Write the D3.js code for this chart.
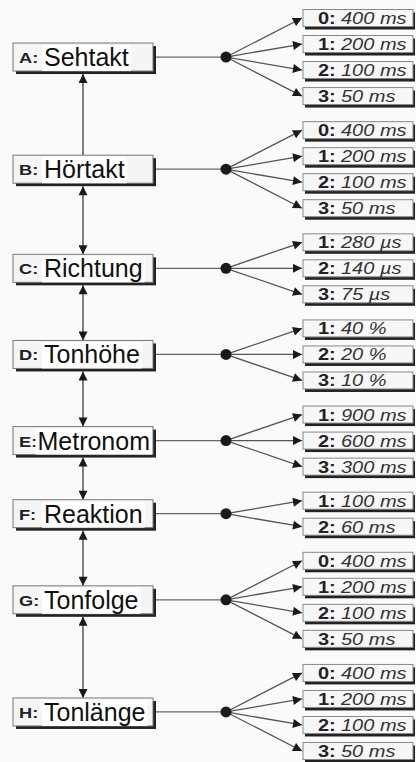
<!DOCTYPE html>
<html>
<head>
<meta charset="utf-8">
<script src="https://cdn.jsdelivr.net/npm/d3@7"></script>
<style>
  body { margin: 0; background: #fafafa; }
  svg { display: block; }
</style>
</head>
<body>
<div class="chart"></div>
<script>
// tasks (left column) and their levels (right column)
var codes = ["A", "B", "C", "D", "E", "F", "G", "H"];
var names = ["Sehtakt", "Hörtakt", "Richtung", "Tonhöhe", "Metronom", "Reaktion", "Tonfolge", "Tonlänge"];
var levels = [
  ["0", "1", "2", "3"],
  ["0", "1", "2", "3"],
  ["1", "2", "3"],
  ["1", "2", "3"],
  ["1", "2", "3"],
  ["1", "2"],
  ["0", "1", "2", "3"],
  ["0", "1", "2", "3"]
];
var values = [
  ["400 ms", "200 ms", "100 ms", "50 ms"],
  ["400 ms", "200 ms", "100 ms", "50 ms"],
  ["280 µs", "140 µs", "75 µs"],
  ["40 %", "20 %", "10 %"],
  ["900 ms", "600 ms", "300 ms"],
  ["100 ms", "60 ms"],
  ["400 ms", "200 ms", "100 ms", "50 ms"],
  ["400 ms", "200 ms", "100 ms", "50 ms"]
];
// link between task i and task i+1: true = arrows both ways
var twoWay = [false, true, true, true, true, true, true];

var width = 416;
var height = 762;
var groupGap = 0.31;   // extra space between groups, in row units

// build row positions
var rows = [];
var groups = [];
var k = 0;
codes.forEach(function(c, g) {
  var first = k;
  levels[g].forEach(function(l, i) {
    rows.push({ g: g, level: l, value: values[g][i], u: k + g * groupGap });
    k++;
  });
  groups.push({ code: c, name: names[g], u: ((first + k - 1) / 2) + g * groupGap });
});

var y = d3.scaleLinear()
  .domain([0, d3.max(rows, function(d) { return d.u; })])
  .range([18, 751]);

var boxX = 13, boxW = 140, boxH = 28;
var midX = 83;
var dotX = 226;
var optX = 303, optW = 110, optH = 17;

var svg = d3.select(".chart")
  .append("svg")
    .attr("width", width)
    .attr("height", height);

svg.append("rect")
  .attr("width", width)
  .attr("height", height)
  .attr("fill", "#fafafa");

var defs = svg.append("defs");
defs.append("marker")
    .attr("id", "head")
    .attr("markerUnits", "userSpaceOnUse")
    .attr("viewBox", "0 0 10 10")
    .attr("refX", 10)
    .attr("refY", 5)
    .attr("markerWidth", 10)
    .attr("markerHeight", 9)
    .attr("orient", "auto-start-reverse")
  .append("path")
    .attr("d", "M0,0 L10,5 L0,10 Z")
    .attr("fill", "#1a1a1a");

// vertical links between tasks
var links = svg.append("g");
twoWay.forEach(function(both, i) {
  var y1 = y(groups[i].u) + boxH / 2 + 3;
  var y2 = y(groups[i + 1].u) - boxH / 2;
  var line = links.append("line")
    .attr("x1", midX).attr("y1", y2)
    .attr("x2", midX).attr("y2", y1)
    .attr("stroke", "#555")
    .attr("stroke-width", 1.5)
    .attr("marker-end", "url(#head)");
  if (both) line.attr("marker-start", "url(#head)");
});

// connectors task -> dot -> levels
var conn = svg.append("g");
conn.selectAll("line.h")
  .data(groups)
  .enter()
  .append("line")
    .attr("x1", boxX + boxW + 3)
    .attr("x2", dotX)
    .attr("y1", function(d) { return y(d.u); })
    .attr("y2", function(d) { return y(d.u); })
    .attr("stroke", "#666")
    .attr("stroke-width", 1.3);

conn.selectAll("line.fan")
  .data(rows)
  .enter()
  .append("line")
    .attr("x1", dotX)
    .attr("y1", function(d) { return y(groups[d.g].u); })
    .attr("x2", optX - 1)
    .attr("y2", function(d) { return y(d.u); })
    .attr("stroke", "#555")
    .attr("stroke-width", 1.3)
    .attr("marker-end", "url(#head)");

conn.selectAll("circle")
  .data(groups)
  .enter()
  .append("circle")
    .attr("cx", dotX)
    .attr("cy", function(d) { return y(d.u); })
    .attr("r", 5.5)
    .attr("fill", "#1a1a1a");

// task boxes
var task = svg.append("g")
  .selectAll("g")
  .data(groups)
  .enter()
  .append("g")
    .attr("transform", function(d) { return "translate(" + boxX + "," + (y(d.u) - boxH / 2) + ")"; });

task.append("rect")
  .attr("x", 3).attr("y", 3)
  .attr("width", boxW).attr("height", boxH)
  .attr("fill", "#222");
task.append("rect")
  .attr("width", boxW).attr("height", boxH)
  .attr("fill", "#f5f5f5")
  .attr("stroke", "#777")
  .attr("stroke-width", 1);

task.append("text")
  .attr("transform", "translate(6,20) scale(1.3,1)")
  .attr("font-family", "Liberation Sans, Arial, sans-serif")
  .attr("font-weight", "bold")
  .attr("font-size", 14)
  .attr("fill", "#222")
  .text(function(d) { return d.code + ":"; });

var nameText = task.append("text")
  .attr("y", 23)
  .attr("font-family", "Liberation Sans, Arial, sans-serif")
  .attr("font-size", 25)
  .attr("fill", "#111")
  .text(function(d) { return d.name; });

nameText.each(function() {
  var w = this.getComputedTextLength();
  var x = Math.min(31, boxW - 3 - w);
  d3.select(this).attr("x", x);
  d3.select(this.parentNode).insert("rect", "text:last-child")
    .attr("x", x - 2).attr("y", 2)
    .attr("width", w + 4).attr("height", boxH - 2)
    .attr("fill", "#fff");
});

// level boxes
var opt = svg.append("g")
  .selectAll("g")
  .data(rows)
  .enter()
  .append("g")
    .attr("transform", function(d) { return "translate(" + optX + "," + (y(d.u) - optH / 2) + ")"; });

opt.append("rect")
  .attr("x", 2).attr("y", 3)
  .attr("width", optW).attr("height", optH)
  .attr("fill", "#222");
opt.append("rect")
  .attr("width", optW).attr("height", optH)
  .attr("fill", "#f7f7f7")
  .attr("stroke", "#888")
  .attr("stroke-width", 1);

opt.append("text")
  .attr("transform", "translate(15,14.5) scale(1.25,1)")
  .attr("font-family", "Liberation Sans, Arial, sans-serif")
  .attr("font-weight", "bold")
  .attr("font-size", 16)
  .attr("fill", "#222")
  .text(function(d) { return d.level + ":"; });

opt.append("text")
  .attr("transform", "translate(38,14.5) scale(1.25,1)")
  .attr("font-family", "Liberation Sans, Arial, sans-serif")
  .attr("font-style", "italic")
  .attr("font-size", 16)
  .attr("fill", "#333")
  .text(function(d) { return d.value; });
</script>
</body>
</html>
